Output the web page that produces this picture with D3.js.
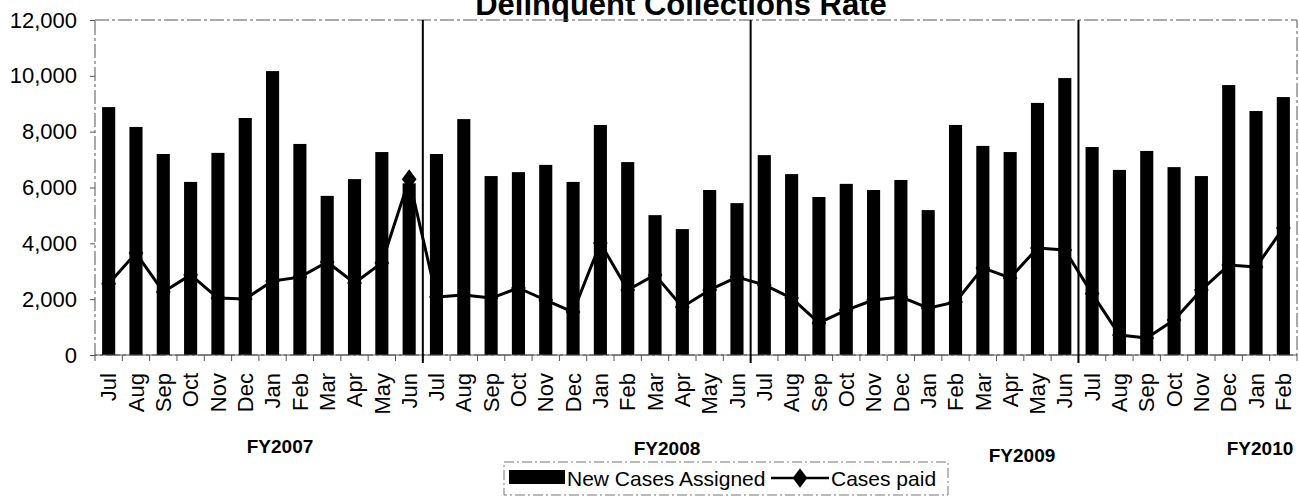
<!DOCTYPE html>
<html>
<head>
<meta charset="utf-8">
<script src="https://cdn.jsdelivr.net/npm/d3@7"></script>
<style>
    body { margin: 0; background: #fff; }
    text { font-family: "Liberation Sans", Arial, sans-serif; fill: #000; }
</style>
</head>
<body>
<div id="chart"></div>
<script>
// Months, Jul 2006 - Feb 2010
let monthNames = ["Jul", "Aug", "Sep", "Oct", "Nov", "Dec", "Jan", "Feb", "Mar", "Apr", "May", "Jun"];
let fiscalYears = ["FY2007", "FY2008", "FY2009", "FY2010"];
let monthsPerYear = [12, 12, 12, 8];

let newCases = [
    8880, 8170, 7200, 6200, 7240, 8490, 10170, 7560, 5700, 6300, 7270, 6150,
    7200, 8450, 6410, 6550, 6810, 6200, 8240, 6910, 5010, 4510, 5910, 5440,
    7160, 6480, 5660, 6130, 5910, 6270, 5190, 8240, 7490, 7270, 9030, 9920,
    7450, 6630, 7310, 6730, 6410, 9670, 8740, 9240
];
let casesPaid = [
    2550, 3650, 2260, 2870, 2040, 2010, 2650, 2790, 3330, 2580, 3300, 6300,
    2080, 2150, 2040, 2400, 1970, 1540, 4010, 2330, 2870, 1720, 2330, 2790,
    2510, 2040, 1150, 1610, 1970, 2080, 1680, 1900, 3120, 2760, 3830, 3760,
    2200, 720, 610, 1250, 2330, 3220, 3150, 4550
];
let yTicks = [0, 2000, 4000, 6000, 8000, 10000, 12000];

// build month records
let months = [];
fiscalYears.forEach((fy, f) => {
    for (let m = 0; m < monthsPerYear[f]; m++) {
        months.push({ key: fy + "-" + m, label: monthNames[m], fy: fy });
    }
});
months.forEach((d, i) => {
    d.cases = newCases[i];
    d.paid = casesPaid[i];
});

let width = 1299;
let height = 499;
let margin = { top: 20, right: 2, bottom: 144, left: 95 };

let svg = d3.select("#chart")
    .append("svg")
    .attr("width", width)
    .attr("height", height);

let x = d3.scaleBand()
    .domain(months.map(d => d.key))
    .range([margin.left, width - margin.right])
    .paddingInner(0.52)
    .paddingOuter(0.26);

let y = d3.scaleLinear()
    .domain([0, 12000])
    .range([height - margin.bottom, margin.top]);

// Title (top is cut off in the original)
svg.append("text")
    .attr("x", 681)
    .attr("y", 15)
    .attr("text-anchor", "middle")
    .style("font-size", "31px")
    .style("font-weight", "bold")
    .text("Delinquent Collections Rate");

// Plot area frame
svg.append("rect")
    .attr("x", margin.left)
    .attr("y", y(12000))
    .attr("width", width - margin.right - margin.left)
    .attr("height", y(0) - y(12000))
    .attr("fill", "none")
    .attr("stroke", "#555")
    .attr("stroke-width", 1)
    .attr("stroke-dasharray", "14,3,3,3");

// Y axis
let yAxis = svg.append("g")
    .attr("transform", `translate(${margin.left},0)`)
    .call(d3.axisLeft(y).tickValues(yTicks).tickFormat(d3.format(",")).tickSize(5).tickPadding(13));
yAxis.select(".domain").remove();
yAxis.selectAll("line").attr("stroke", "#555");
yAxis.selectAll("text").style("font-size", "22px").style("font-family", "Liberation Sans, Arial, sans-serif");

// Bars
svg.selectAll(".bar")
    .data(months)
    .join("rect")
    .attr("class", "bar")
    .attr("x", d => x(d.key))
    .attr("y", d => y(d.cases))
    .attr("width", x.bandwidth())
    .attr("height", d => y(0) - y(d.cases))
    .attr("fill", "#000");

// X axis line and ticks at band boundaries
let step = x.step();
let x0 = margin.left;
svg.append("line")
    .attr("x1", x0)
    .attr("x2", width - margin.right)
    .attr("y1", y(0))
    .attr("y2", y(0))
    .attr("stroke", "#555")
    .attr("stroke-width", 1);

svg.selectAll(".xtick")
    .data(d3.range(months.length + 1))
    .join("line")
    .attr("class", "xtick")
    .attr("x1", i => x0 + i * step)
    .attr("x2", i => x0 + i * step)
    .attr("y1", y(0))
    .attr("y2", y(0) + 6)
    .attr("stroke", "#555");

// Fiscal year separators
let starts = [];
let acc = 0;
monthsPerYear.forEach(n => { starts.push(acc); acc += n; });
svg.selectAll(".sep")
    .data(starts.slice(1))
    .join("line")
    .attr("class", "sep")
    .attr("x1", i => x0 + i * step)
    .attr("x2", i => x0 + i * step)
    .attr("y1", y(12000))
    .attr("y2", y(0) + 8)
    .attr("stroke", "#000")
    .attr("stroke-width", 2);

// Month labels
svg.selectAll(".mlabel")
    .data(months)
    .join("text")
    .attr("class", "mlabel")
    .attr("transform", d => `translate(${x(d.key) + x.bandwidth() / 2},${y(0) + 18}) rotate(-90)`)
    .attr("dy", "0.35em")
    .attr("text-anchor", "end")
    .style("font-size", "22px")
    .text(d => d.label);

// Fiscal year labels
let fyPos = [[280, 453], [667, 455], [1022, 462], [1260, 455]];
svg.selectAll(".fylabel")
    .data(fiscalYears)
    .join("text")
    .attr("class", "fylabel")
    .attr("x", (d, i) => fyPos[i][0])
    .attr("y", (d, i) => fyPos[i][1])
    .attr("text-anchor", "middle")
    .style("font-size", "19px")
    .style("font-weight", "bold")
    .text(d => d);

// Cases paid line
let line = d3.line()
    .x(d => x(d.key) + x.bandwidth() / 2)
    .y(d => y(d.paid));

svg.append("path")
    .datum(months)
    .attr("d", line)
    .attr("fill", "none")
    .attr("stroke", "#000")
    .attr("stroke-width", 3)
    .attr("stroke-linejoin", "round");

let diamond = d3.symbol().type(d3.symbolDiamond).size(110);
svg.selectAll(".marker")
    .data(months)
    .join("path")
    .attr("class", "marker")
    .attr("d", diamond)
    .attr("transform", d => `translate(${x(d.key) + x.bandwidth() / 2},${y(d.paid)}) scale(1.3,1)`)
    .attr("fill", "#000");

// Legend
let legend = svg.append("g");
legend.append("rect")
    .attr("x", 504)
    .attr("y", 462)
    .attr("width", 444)
    .attr("height", 33)
    .attr("fill", "#fff")
    .attr("stroke", "#777")
    .attr("stroke-dasharray", "10,3,2,3");
legend.append("rect")
    .attr("x", 509)
    .attr("y", 470)
    .attr("width", 56)
    .attr("height", 14)
    .attr("fill", "#000");
legend.append("text")
    .attr("x", 567)
    .attr("y", 486)
    .style("font-size", "21px")
    .text("New Cases Assigned");
legend.append("line")
    .attr("x1", 771)
    .attr("x2", 829)
    .attr("y1", 478)
    .attr("y2", 478)
    .attr("stroke", "#000")
    .attr("stroke-width", 2.5);
legend.append("path")
    .attr("d", diamond)
    .attr("transform", "translate(800,478) scale(1.3,1)")
    .attr("fill", "#000");
legend.append("text")
    .attr("x", 831)
    .attr("y", 486)
    .style("font-size", "21px")
    .text("Cases paid");
</script>
</body>
</html>
